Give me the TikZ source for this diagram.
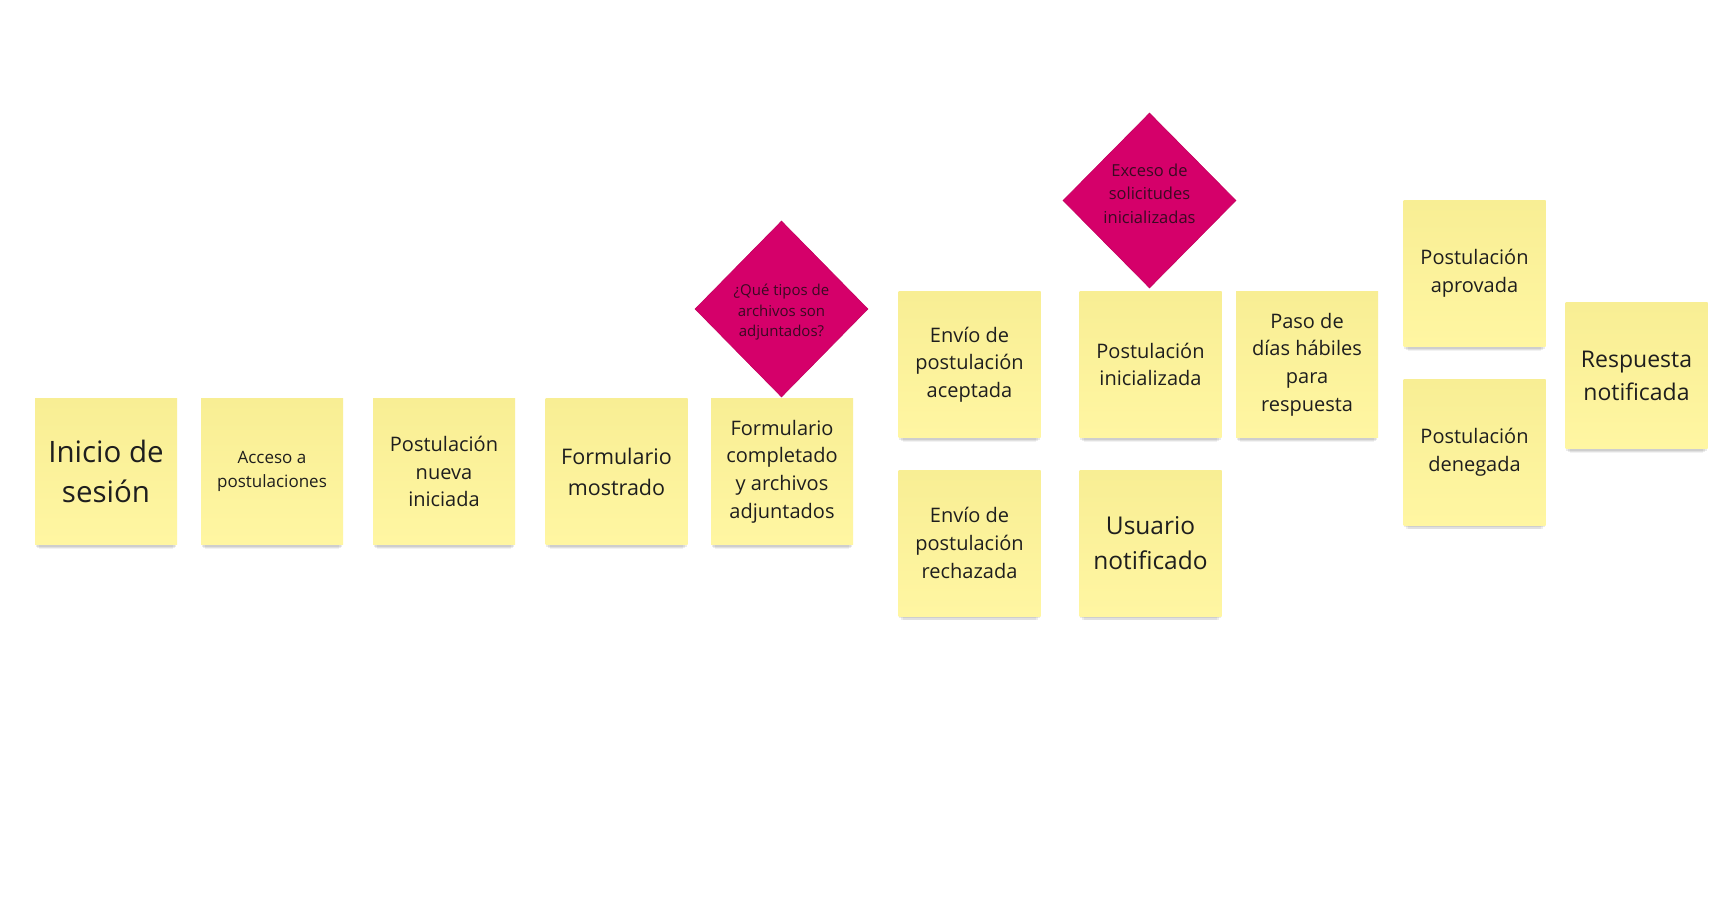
\documentclass[tikz,border=0pt]{standalone}
\usepackage{fontspec}
\setmainfont{Open Sans}
\usetikzlibrary{shapes.geometric,shadows}
\definecolor{noteTop}{HTML}{F8EE94}
\definecolor{noteBot}{HTML}{FFF6A2}
\definecolor{noteText}{HTML}{1E1E1E}
\definecolor{magentaFill}{HTML}{D5006A}
\definecolor{magentaLine}{HTML}{C4005F}
\definecolor{magentaText}{HTML}{3A0A22}
\tikzset{
  note/.style={rectangle, draw=none, minimum width=142pt, minimum height=146pt,
    inner sep=2pt, align=center, text=noteText,
    top color=noteTop, bottom color=noteBot,
    general shadow={fill=black, opacity=0.05, shadow yshift=-9pt, shadow scale=0.94},
    general shadow={fill=black, opacity=0.07, shadow yshift=-6pt, shadow scale=0.97},
    general shadow={fill=black, opacity=0.08, shadow yshift=-3pt, shadow scale=0.99}},
  decision/.style={diamond, draw=magentaLine, line width=0.6pt, fill=magentaFill,
    minimum width=173pt, minimum height=176pt, inner sep=0pt},
  dtext/.style={align=center, text=magentaText, inner sep=0pt},
  fsA/.style={font=\fontsize{17}{23.2}\selectfont},
  fsB/.style={font=\fontsize{20}{27.7}\selectfont},
  fsC/.style={font=\fontsize{21.5}{31}\selectfont},
  fsD/.style={font=\fontsize{24.5}{35}\selectfont},
  fsE/.style={font=\fontsize{29.5}{40}\selectfont},
  fsF/.style={font=\fontsize{23}{33}\selectfont},
  fsG/.style={font=\fontsize{15}{20.5}\selectfont},
  fsH/.style={font=\fontsize{16.5}{23.8}\selectfont},
}
\begin{document}
\begin{tikzpicture}[x=1pt,y=-1pt]
\useasboundingbox[fill=white] (0,0) rectangle (1732,901);
% row 1
\node[note,fsE] (inicio) at (106,471.5) {Inicio de\\sesión};
\node[note,fsA] (acceso) at (272,471.5) {Acceso a\\postulaciones};
\node[note,fsB] (nueva) at (444,471.5) {Postulación\\nueva\\iniciada};
\node[note,fsC] (mostrado) at (616.5,471.5) {Formulario\\mostrado};
\node[note,fsB] (completado) at (782,471.5) {Formulario\\completado\\y archivos\\adjuntados};
\node[decision,label={[dtext,fsG,yshift=-3.3pt]center:{¿Qué tipos de\\archivos son\\adjuntados?}}] (tipos) at (781.5,309) {};
% middle
\node[note,fsB] (aceptada) at (969.5,364.5) {Envío de\\postulación\\aceptada};
\node[note,fsB] (rechazada) at (969.5,543) {Envío de\\postulación\\rechazada};
\node[note,fsB] (inicializada) at (1150.5,364.5) {Postulación\\inicializada};
\node[note,fsD] (usuario) at (1150.5,543) {Usuario\\notificado};
\node[decision,minimum height=175pt,label={[dtext,fsH,yshift=6.7pt]center:{Exceso de\\solicitudes\\inicializadas}}] (exceso) at (1149.5,200.5) {};
\node[note,fsB] (paso) at (1307,364.5) {Paso de\\días hábiles\\para\\respuesta};
% right
\node[note,fsB] (aprovada) at (1474.5,273.5) {Postulación\\aprovada};
\node[note,fsB] (denegada) at (1474.5,452) {Postulación\\denegada};
\node[note,fsF] (respuesta) at (1636.5,375.5) {Respuesta\\notificada};
\end{tikzpicture}
\end{document}
